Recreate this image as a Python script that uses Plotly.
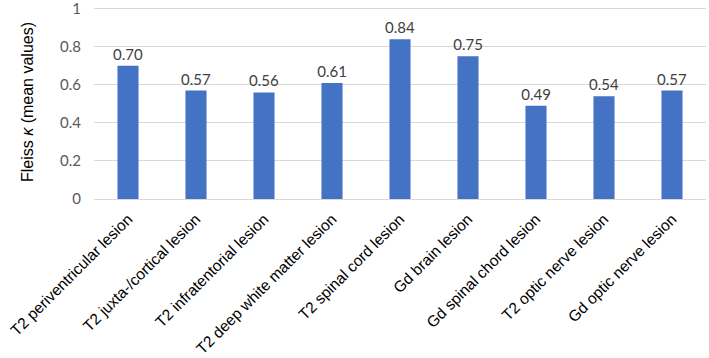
import plotly.graph_objects as go

categories = ["T2 periventricular lesion", "T2 juxta-/cortical lesion", "T2 infratentorial lesion",
              "T2 deep white matter lesion", "T2 spinal cord lesion", "Gd brain lesion",
              "Gd spinal chord lesion", "T2 optic nerve lesion", "Gd optic nerve lesion"]
values = [0.70, 0.57, 0.56, 0.61, 0.84, 0.75, 0.49, 0.54, 0.57]
y_ticks = [0, 0.2, 0.4, 0.6, 0.8, 1]
y_ticklabels = ["0", "0.2", "0.4", "0.6", "0.8", "1"]

fig = go.Figure(go.Bar(
    x=categories, y=values,
    marker=dict(color="#4472C4", line=dict(width=0)),
    text=[f"{v:.2f}" for v in values], textposition="outside", constraintext="none",
    textfont=dict(family="Lato, Open Sans, sans-serif", size=15, color="#404040"),
    cliponaxis=False,
))
fig.update_layout(
    width=709, height=358,
    margin=dict(l=94, r=3, t=5, b=159, autoexpand=False),
    paper_bgcolor="white", plot_bgcolor="white",
    bargap=0.69, showlegend=False,
    xaxis=dict(tickangle=-45, tickfont=dict(family="Liberation Sans, Arial", size=15.5, color="#000000"),
               showline=True, linecolor="#D9D9D9", linewidth=1, ticks="", showgrid=False,
               automargin=False, ticklabelstandoff=4),
    yaxis=dict(range=[0, 1.02], tickvals=y_ticks, ticktext=y_ticklabels,
               tickfont=dict(family="Lato, Open Sans, sans-serif", size=15, color="#595959"),
               showgrid=True, gridcolor="#D9D9D9", gridwidth=1, zeroline=False, ticks="",
               ticklabelstandoff=12, automargin=False, ticklabeloverflow="allow",
               title=dict(text="Fleiss <i>κ</i> (mean values)", standoff=22,
                          font=dict(family="Liberation Sans, Arial", size=16, color="#000000"))),
)
fig.write_html("out.html")
